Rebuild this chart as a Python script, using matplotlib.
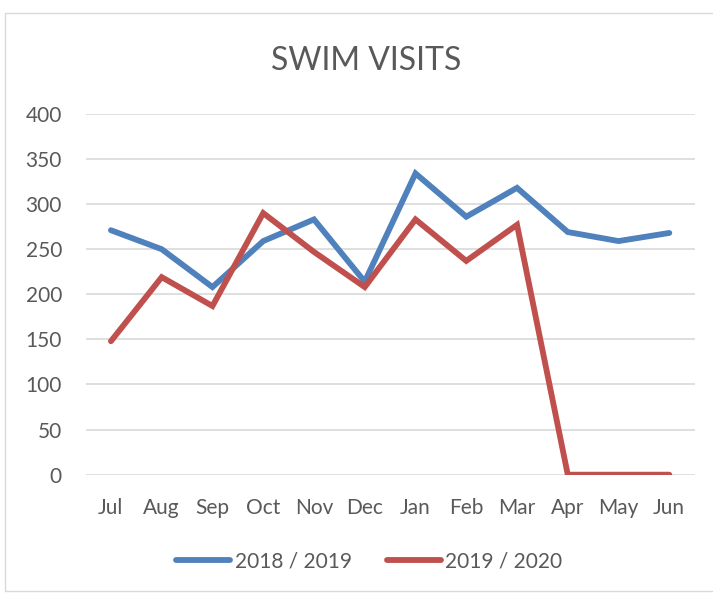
import matplotlib
matplotlib.use("Agg")
import matplotlib.pyplot as plt
from matplotlib.patches import Rectangle

plt.rcParams['font.family'] = ['Lato', 'DejaVu Sans']

months = ['Jul', 'Aug', 'Sep', 'Oct', 'Nov', 'Dec', 'Jan', 'Feb', 'Mar', 'Apr', 'May', 'Jun']
visits_2018_2019 = [271, 250, 208, 259, 283, 214, 334, 286, 318, 269, 259, 268]
visits_2019_2020 = [148, 219, 187, 290, 247, 208, 283, 237, 277, 0, 0, 0]

grey = '#595959'

fig = plt.figure(figsize=(7.13, 5.95), dpi=100)
# chart border
fig.patches.append(Rectangle((5 / 713, 4 / 595), 1.2, 578 / 595, transform=fig.transFigure,
                             fill=False, edgecolor='#D9D9D9', linewidth=1))

ax = fig.add_axes([0.12, 0.2022, 0.8543, 0.6064])
x = range(len(months))
ax.plot(x, visits_2018_2019, color='#4F81BD', lw=4.2, solid_capstyle='round',
        solid_joinstyle='miter', label='2018 / 2019', zorder=3)
ax.plot(x, visits_2019_2020, color='#C0504D', lw=4.2, solid_capstyle='round',
        solid_joinstyle='miter', label='2019 / 2020', zorder=3)

ax.set_xlim(-0.5, len(months) - 0.5)
ax.set_ylim(0, 400)
ax.set_yticks(range(0, 401, 50))
ax.set_xticks(list(x))
ax.set_xticklabels(months)
ax.tick_params(length=0, labelsize=15, labelcolor=grey)
ax.tick_params(axis='y', pad=17)
ax.tick_params(axis='x', pad=17)
ax.grid(axis='y', color='#D9D9D9', lw=1.2)
ax.set_axisbelow(True)
for s in ax.spines.values():
    s.set_visible(False)

fig.text(0.513, 0.897, 'SWIM VISITS', ha='center', va='center', fontsize=23, color=grey)

leg = fig.legend(loc='center', bbox_to_anchor=(0.518, 0.057), ncol=2, frameon=False,
                 fontsize=15, labelcolor=grey, handlelength=2.6, handletextpad=0.2,
                 columnspacing=1.7)

plt.savefig('out.png', dpi=100)
